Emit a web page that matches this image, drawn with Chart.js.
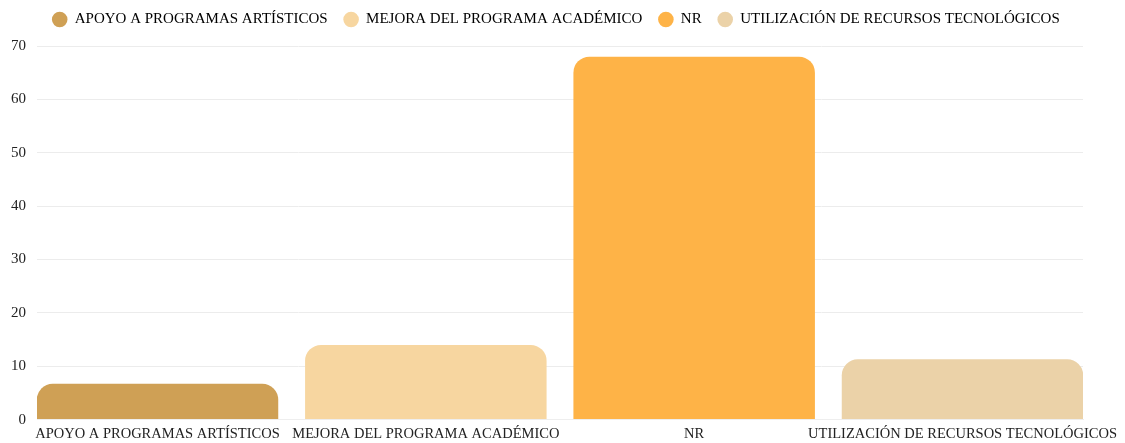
<!DOCTYPE html>
<html>
<head>
<meta charset="utf-8">
<script src="https://cdn.jsdelivr.net/npm/chart.js@4/dist/chart.umd.min.js"></script>
<style>
  html, body { margin: 0; padding: 0; background: #ffffff; }
  #wrap { width: 1125px; height: 443px; position: relative; }
</style>
</head>
<body>
<div id="wrap"><canvas id="c" width="1125" height="443"></canvas></div>
<script>
const categories = [
  "APOYO A PROGRAMAS ARTÍSTICOS",
  "MEJORA DEL PROGRAMA ACADÉMICO",
  "NR",
  "UTILIZACIÓN DE RECURSOS TECNOLÓGICOS"
];
const values = [6.7, 14, 68, 11.3];
const colors = ["#CFA055", "#F7D6A0", "#FEB347", "#EBD2A8"];
const yTicks = [0, 10, 20, 30, 40, 50, 60, 70];

const FONT = "'Liberation Serif', 'DejaVu Serif', serif";
const FSIZE = 15;

const legendMargin = {
  id: 'legendMargin',
  beforeInit(chart) {
    const origFit = chart.legend.fit;
    chart.legend.fit = function () {
      origFit.bind(chart.legend)();
      this.height += 9;
    };
  }
};

new Chart(document.getElementById('c'), {
  type: 'bar',
  plugins: [legendMargin],
  data: {
    datasets: [{
      data: values.map((v, i) => ({ x: i, y: v })),
      backgroundColor: colors,
      borderRadius: 16,
      barPercentage: 0.9,
      categoryPercentage: 1.0
    }]
  },
  options: {
    responsive: false,
    animation: false,
    devicePixelRatio: 1,
    layout: { padding: { left: 8, right: 21, top: -4, bottom: -6 } },
    plugins: {
      tooltip: { enabled: false },
      legend: {
        display: true,
        position: 'top',
        labels: {
          usePointStyle: true,
          pointStyle: 'circle',
          boxWidth: 15,
          boxHeight: 11,
          padding: 16,
          color: '#222222',
          font: { family: FONT, size: FSIZE },
          generateLabels: () => categories.map((c, i) => ({
            text: c,
            fillStyle: colors[i],
            strokeStyle: colors[i],
            lineWidth: 0,
            pointStyle: 'circle',
            hidden: false,
            index: i
          }))
        },
        onClick: () => {}
      }
    },
    scales: {
      x: {
        type: 'linear',
        offset: false,
        min: -0.449,
        max: 3.449,
        afterBuildTicks: (scale) => {
          scale.ticks = categories.map((_, i) => ({ value: i }));
        },
        afterFit: (scale) => {
          scale.paddingRight = 42;
        },
        ticks: {
          autoSkip: false,
          maxRotation: 0,
          padding: 6,
          color: '#222222',
          font: { family: FONT, size: 14.5 },
          callback: (v) => categories[v] !== undefined ? categories[v] : ''
        },
        grid: { display: false, drawTicks: false, offset: false },
        border: { display: true, color: '#eeeeee' }
      },
      y: {
        min: 0,
        max: 70,
        afterBuildTicks: (scale) => {
          scale.ticks = yTicks.map(v => ({ value: v }));
        },
        ticks: {
          color: '#222222',
          font: { family: FONT, size: FSIZE }
        },
        grid: { color: '#ececec', drawTicks: true, tickColor: 'rgba(0,0,0,0)' },
        border: { display: false }
      }
    }
  }
});
</script>
</body>
</html>
